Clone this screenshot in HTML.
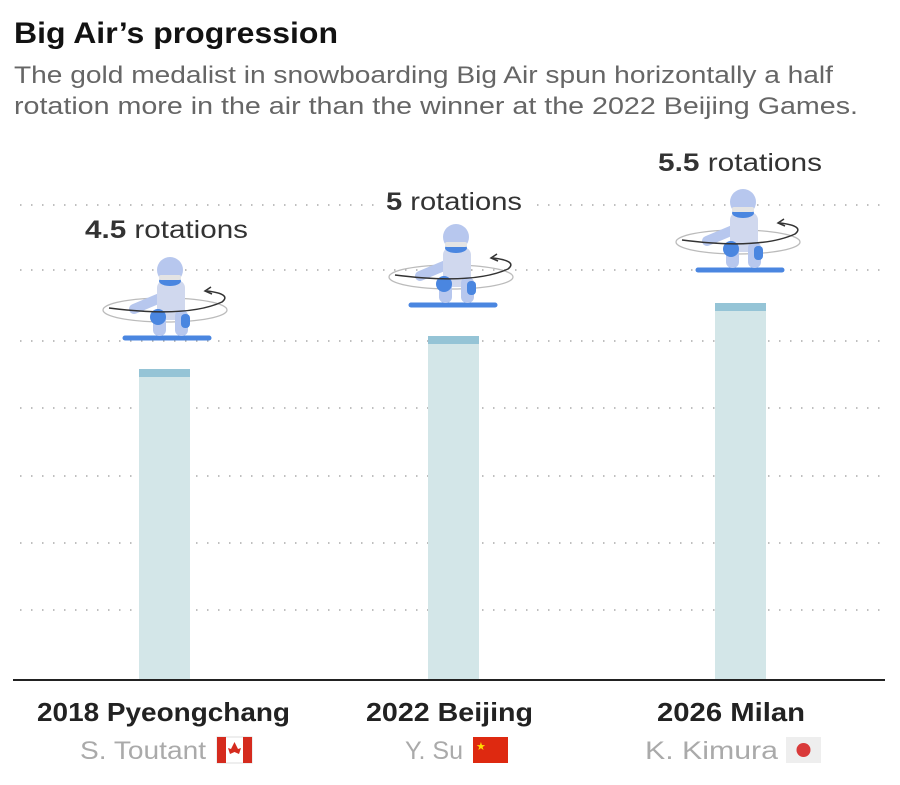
<!DOCTYPE html>
<html><head><meta charset="utf-8"><style>
body{margin:0;background:#fff;width:900px;height:785px;overflow:hidden;font-family:"Liberation Sans",sans-serif;}
</style></head><body>
<svg width="900" height="785" xmlns="http://www.w3.org/2000/svg" style="position:absolute;left:0;top:0">
<defs>
<g id="sb">
  <ellipse cx="-2" cy="-28" rx="62" ry="12" fill="none" stroke="#bbb" stroke-width="1.3"/>
  <line x1="-42" y1="0" x2="42" y2="0" stroke="#4a86e0" stroke-width="5" stroke-linecap="round"/>
  <line x1="5" y1="-45" x2="-33" y2="-29" stroke="#b7c7ee" stroke-width="10" stroke-linecap="round"/>
  <rect x="-10" y="-58" width="28" height="40" rx="8" fill="#d0d8ee"/>
  <rect x="-14" y="-28" width="13" height="26" rx="6" fill="#b7c7ee"/>
  <rect x="8" y="-28" width="13" height="26" rx="6" fill="#b7c7ee"/>
  <circle cx="-9" cy="-21" r="8" fill="#4a86e0"/>
  <rect x="14" y="-24" width="9" height="14" rx="4" fill="#4a86e0"/>
  <circle cx="3" cy="-68" r="13" fill="#b7c7ee"/>
  <ellipse cx="3" cy="-57" rx="11" ry="5" fill="#4a86e0"/>
  <rect x="-8" y="-63" width="22" height="5" rx="2" fill="#e4e4e4"/>
  <path d="M-58,-30 Q20,-20 55,-36 Q65,-44 40,-47" fill="none" stroke="#333" stroke-width="1.5"/>
  <path d="M44,-51 L38,-47 L45,-44" fill="none" stroke="#333" stroke-width="1.5"/>
</g>
</defs>
<text x="14" y="43" font-size="30" font-weight="bold" fill="#121212" textLength="324" lengthAdjust="spacingAndGlyphs">Big Air’s progression</text>
<text x="14" y="83" font-size="24" fill="#666" textLength="819" lengthAdjust="spacingAndGlyphs">The gold medalist in snowboarding Big Air spun horizontally a half</text>
<text x="14" y="114" font-size="24" fill="#666" textLength="844" lengthAdjust="spacingAndGlyphs">rotation more in the air than the winner at the 2022 Beijing Games.</text>
<g stroke="#aaa" stroke-width="1.5" stroke-dasharray="1.5,9.5">
<line x1="20" y1="205" x2="885" y2="205"/><line x1="20" y1="270" x2="885" y2="270"/>
<line x1="20" y1="341" x2="885" y2="341"/><line x1="20" y1="408" x2="885" y2="408"/>
<line x1="20" y1="476" x2="885" y2="476"/><line x1="20" y1="543" x2="885" y2="543"/>
<line x1="20" y1="610" x2="885" y2="610"/>
</g>
<rect x="375" y="188" width="160" height="28" fill="#fff"/>
<rect x="139" y="369" width="51" height="311" fill="#d3e6e8"/><rect x="139" y="369" width="51" height="8" fill="#95c4d6"/>
<rect x="428" y="336" width="51" height="344" fill="#d3e6e8"/><rect x="428" y="336" width="51" height="8" fill="#95c4d6"/>
<rect x="715" y="303" width="51" height="377" fill="#d3e6e8"/><rect x="715" y="303" width="51" height="8" fill="#95c4d6"/>
<line x1="13" y1="680" x2="885" y2="680" stroke="#222" stroke-width="2"/>
<use href="#sb" x="167" y="338"/><use href="#sb" x="453" y="305"/><use href="#sb" x="740" y="270"/>
<g font-size="25" fill="#333">
<text x="85" y="238" textLength="163" lengthAdjust="spacingAndGlyphs"><tspan font-weight="bold">4.5</tspan> rotations</text>
<text x="386" y="210" textLength="136" lengthAdjust="spacingAndGlyphs"><tspan font-weight="bold">5</tspan> rotations</text>
<text x="658" y="171" textLength="164" lengthAdjust="spacingAndGlyphs"><tspan font-weight="bold">5.5</tspan> rotations</text>
</g>
<g font-size="26" font-weight="bold" fill="#222">
<text x="37" y="721" textLength="253" lengthAdjust="spacingAndGlyphs">2018 Pyeongchang</text>
<text x="366" y="721" textLength="167" lengthAdjust="spacingAndGlyphs">2022 Beijing</text>
<text x="657" y="721" textLength="148" lengthAdjust="spacingAndGlyphs">2026 Milan</text>
</g>
<g font-size="25" fill="#aaa">
<text x="80" y="759" textLength="126" lengthAdjust="spacingAndGlyphs">S. Toutant</text>
<text x="405" y="759" textLength="58" lengthAdjust="spacingAndGlyphs">Y. Su</text>
<text x="645" y="759" textLength="133" lengthAdjust="spacingAndGlyphs">K. Kimura</text>
</g>
<rect x="217" y="737" width="35" height="26" fill="#fff" stroke="#ddd"/><rect x="217" y="737" width="9" height="26" fill="#d52b1e"/><rect x="243" y="737" width="9" height="26" fill="#d52b1e"/><path d="M234.5,742 L238,749 L241,748 L239,754 L234.5,752 L230,754 L228,748 L231,749Z" fill="#d52b1e"/>
<rect x="473" y="737" width="35" height="26" fill="#de2910"/><text x="476" y="750" font-size="11" fill="#ffde00">★</text>
<rect x="786" y="737" width="35" height="26" fill="#eee"/><circle cx="803.5" cy="750" r="7" fill="#d93a3a"/>
</svg>
</body></html>
